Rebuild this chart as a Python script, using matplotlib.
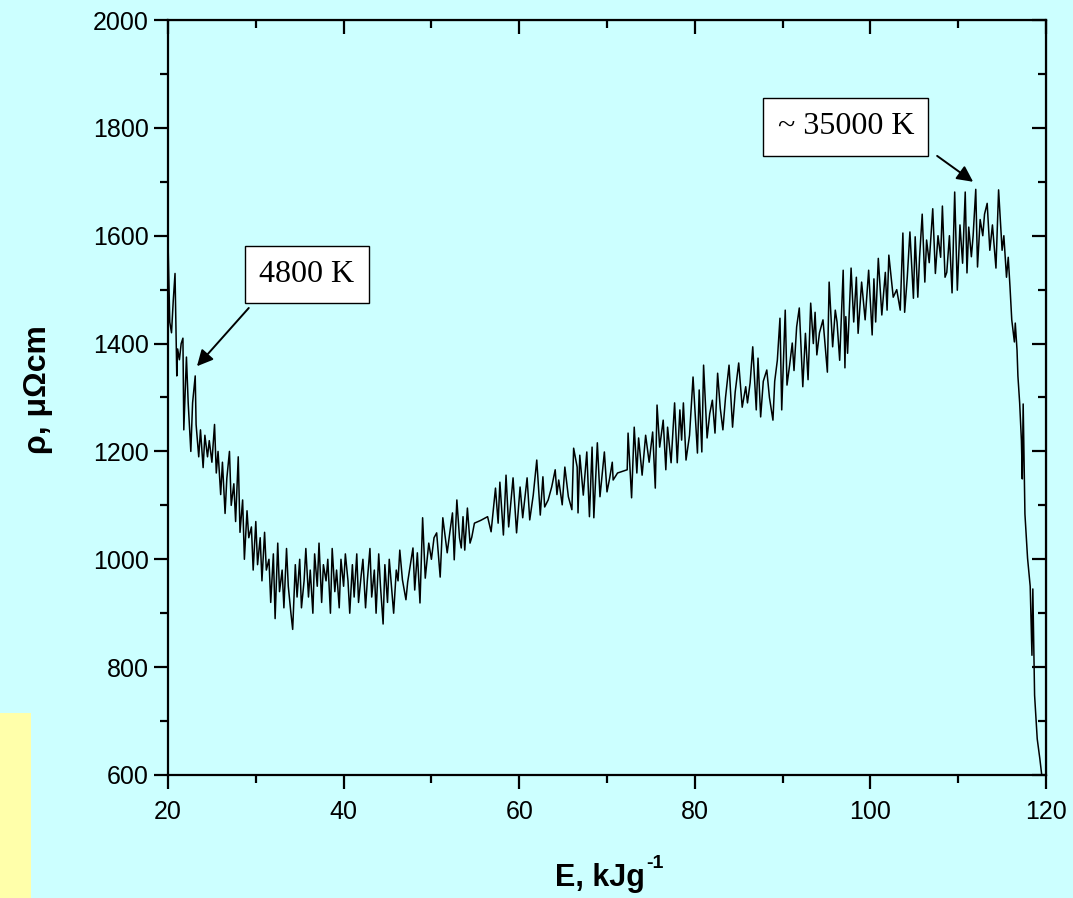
import numpy as np
import matplotlib
matplotlib.use("Agg")
import matplotlib.pyplot as plt
from matplotlib.patches import Rectangle
from matplotlib.ticker import MultipleLocator

# energy (kJ/g)
energy = [20.0, 20.2, 20.4, 20.6, 20.8, 21.0, 21.1, 21.3, 21.5, 21.7, 21.8, 22.1, 22.3, 22.6, 22.8,
          23.1, 23.2, 23.5, 23.7, 24.0, 24.2, 24.5, 24.7, 25.0, 25.3, 25.5, 25.7, 26.0, 26.2, 26.5,
          26.7, 27.0, 27.2, 27.5, 27.7, 28.0, 28.2, 28.5, 28.7, 29.0, 29.2, 29.5, 29.7, 30.0, 30.2,
          30.5, 30.7, 31.0, 31.2, 31.5, 31.7, 32.0, 32.2, 32.5, 32.7, 33.0, 33.2, 33.5, 33.7, 34.0,
          34.2, 34.5, 34.7, 35.0, 35.2, 35.5, 35.7, 36.0, 36.2, 36.5, 36.7, 37.0, 37.2, 37.5, 37.7,
          38.0, 38.2, 38.5, 38.7, 39.0, 39.2, 39.5, 39.7, 40.0, 40.2, 40.5, 40.7, 41.0, 41.2, 41.5,
          41.7, 42.0, 42.2, 42.5, 42.7, 43.0, 43.2, 43.5, 43.7, 44.0, 44.2, 44.5, 44.7, 45.0, 45.2,
          45.5, 45.7, 46.0, 46.2, 46.4, 46.7, 47.1, 47.3, 47.6, 47.9, 48.1, 48.4, 48.7, 49.0, 49.3,
          49.7, 50.0, 50.3, 50.6, 51.0, 51.3, 51.8, 52.1, 52.4, 52.6, 52.9, 53.2, 53.4, 53.6, 53.8,
          54.1, 54.4, 54.6, 54.9, 55.6, 56.4, 56.8, 57.3, 57.6, 57.8, 58.2, 58.5, 58.8, 59.3, 59.7,
          60.1, 60.4, 60.9, 61.2, 61.6, 62.0, 62.4, 62.7, 62.9, 63.3, 63.7, 64.1, 64.3, 64.5, 64.9,
          65.2, 65.6, 66.0, 66.2, 66.6, 66.7, 66.9, 67.3, 67.7, 68.0, 68.3, 68.5, 68.9, 69.2, 69.7,
          70.0, 70.3, 70.6, 70.7, 71.2, 72.3, 72.4, 72.8, 73.1, 73.4, 73.6, 74.0, 74.4, 74.8, 75.2,
          75.5, 75.7, 76.0, 76.4, 76.7, 76.9, 77.3, 77.7, 78.0, 78.3, 78.5, 78.7, 79.0, 79.4, 79.8,
          80.3, 80.5, 80.8, 81.0, 81.4, 81.7, 82.0, 82.3, 82.6, 82.9, 83.2, 83.5, 83.9, 84.3, 84.6,
          85.0, 85.4, 85.8, 86.0, 86.3, 86.6, 87.0, 87.2, 87.5, 87.8, 88.2, 88.5, 88.9, 89.1, 89.4,
          89.7, 89.9, 90.3, 90.5, 90.8, 91.1, 91.3, 91.6, 91.9, 92.3, 92.6, 92.9, 93.2, 93.5, 93.7,
          93.9, 94.2, 94.6, 95.1, 95.3, 95.7, 96.0, 96.2, 96.5, 96.9, 97.1, 97.2, 97.4, 97.8, 98.1,
          98.4, 98.6, 99.0, 99.4, 99.8, 100.2, 100.4, 100.6, 100.9, 101.3, 101.7, 101.9, 102.1, 102.6, 103.0,
          103.4, 103.7, 103.9, 104.2, 104.5, 104.9, 105.1, 105.4, 105.6, 105.9, 106.2, 106.4, 106.7, 107.1, 107.4,
          107.7, 108.0, 108.2, 108.5, 108.7, 109.0, 109.3, 109.6, 109.9, 110.2, 110.5, 110.8, 111.0, 111.2, 111.5,
          111.7, 112.0, 112.2, 112.5, 112.8, 113.0, 113.3, 113.6, 113.9, 114.3, 114.6, 115.0, 115.2, 115.5, 115.7,
          115.9, 116.1, 116.4, 116.5, 116.7, 116.8, 117.0, 117.2, 117.3, 117.4, 117.6, 117.9, 118.2, 118.4, 118.5,
          118.7, 119.0, 119.3, 119.5]

# resistivity (micro-ohm cm)
rho = [1590, 1440, 1420, 1480, 1530, 1340, 1390, 1370, 1400, 1410, 1240, 1375, 1290, 1200, 1290,
       1340, 1250, 1190, 1240, 1170, 1230, 1190, 1220, 1180, 1250, 1160, 1200, 1120, 1180, 1085,
       1150, 1200, 1100, 1140, 1070, 1190, 1050, 1110, 1000, 1090, 1040, 1060, 980, 1070, 990,
       1040, 960, 1050, 980, 1000, 920, 1010, 890, 1030, 940, 980, 910, 1020, 950, 900,
       870, 990, 930, 1000, 910, 960, 1020, 930, 980, 900, 1010, 950, 1030, 920, 990,
       960, 1000, 900, 1020, 940, 980, 910, 1000, 950, 1010, 960, 900, 990, 930, 1010,
       920, 970, 1000, 910, 960, 1020, 930, 980, 900, 1010, 950, 880, 990, 920, 1000,
       940, 900, 980, 960, 1017, 962, 925, 958, 990, 1021, 943, 1012, 919, 1077, 965,
       1030, 1000, 1040, 1049, 967, 1077, 1012, 1050, 1086, 999, 1110, 1040, 1021, 1079, 1017,
       1095, 1030, 1041, 1067, 1072, 1079, 1051, 1132, 1067, 1143, 1045, 1156, 1060, 1151, 1049,
       1134, 1077, 1151, 1073, 1119, 1184, 1082, 1153, 1097, 1110, 1134, 1166, 1120, 1147, 1101,
       1171, 1116, 1092, 1206, 1171, 1086, 1193, 1119, 1199, 1079, 1208, 1077, 1216, 1116, 1199,
       1125, 1150, 1180, 1147, 1160, 1166, 1234, 1114, 1245, 1160, 1225, 1156, 1230, 1180, 1236,
       1132, 1286, 1208, 1258, 1166, 1245, 1179, 1290, 1179, 1277, 1221, 1290, 1184, 1230, 1338,
       1197, 1314, 1199, 1360, 1225, 1270, 1295, 1234, 1345, 1280, 1240, 1300, 1360, 1245, 1310,
       1364, 1282, 1320, 1290, 1327, 1394, 1277, 1373, 1264, 1330, 1351, 1300, 1258, 1330, 1369,
       1447, 1277, 1462, 1323, 1360, 1401, 1350, 1431, 1466, 1320, 1419, 1333, 1475, 1400, 1458,
       1379, 1420, 1444, 1347, 1514, 1394, 1462, 1440, 1369, 1536, 1355, 1450, 1382, 1540, 1440,
       1523, 1419, 1514, 1444, 1536, 1416, 1520, 1440, 1558, 1453, 1532, 1462, 1564, 1486, 1500,
       1462, 1605, 1458, 1523, 1607, 1484, 1598, 1486, 1560, 1640, 1514, 1592, 1550, 1650, 1530,
       1600, 1560, 1655, 1523, 1532, 1600, 1494, 1681, 1499, 1620, 1549, 1681, 1531, 1616, 1561,
       1600, 1686, 1542, 1630, 1600, 1640, 1660, 1573, 1620, 1540, 1685, 1573, 1600, 1523, 1560,
       1505, 1444, 1403, 1438, 1388, 1340, 1290, 1220, 1149, 1288, 1084, 1002, 950, 822, 945,
       748, 667, 630, 602]

x_ticks = [20, 40, 60, 80, 100, 120]
y_ticks = [600, 800, 1000, 1200, 1400, 1600, 1800, 2000]

BG = "#CCFFFF"
SANS = ["Liberation Sans", "DejaVu Sans"]


def make_plot():
    fig = plt.figure(figsize=(10.73, 8.98), dpi=100, facecolor=BG)
    ax = fig.add_axes([168 / 1073, 1 - 775 / 898, (1046 - 168) / 1073, (775 - 20) / 898])
    ax.set_facecolor(BG)

    # yellow strip in the lower left corner
    fig.patches.append(Rectangle((0, 0), 31 / 1073, 185 / 898, transform=fig.transFigure,
                                 facecolor="#FFFFAA", edgecolor="none", zorder=0))

    ax.plot(energy, rho, color="black", lw=1.1)

    ax.set_xlim(20, 120)
    ax.set_ylim(600, 2000)
    ax.set_xticks(x_ticks)
    ax.set_yticks(y_ticks)
    ax.xaxis.set_minor_locator(MultipleLocator(10))
    ax.yaxis.set_minor_locator(MultipleLocator(100))

    for s in ax.spines.values():
        s.set_linewidth(1.6)

    ax.tick_params(which="both", direction="out", width=1.6, top=False, right=False,
                   labelsize=18)
    ax.tick_params(which="major", length=10)
    ax.tick_params(which="minor", length=5.5)
    ax.tick_params(axis="x", pad=8)
    ax.tick_params(axis="y", pad=4)
    for lab in ax.get_xticklabels() + ax.get_yticklabels():
        lab.set_family("Liberation Sans")

    # mirrored ticks pointing inward on top and right
    top = ax.secondary_xaxis("top")
    top.set_xticks(x_ticks)
    top.xaxis.set_minor_locator(MultipleLocator(10))
    top.tick_params(which="both", direction="in", width=1.6, labeltop=False)
    top.tick_params(which="major", length=10)
    top.tick_params(which="minor", length=5.5)
    right = ax.secondary_yaxis("right")
    right.set_yticks(y_ticks)
    right.yaxis.set_minor_locator(MultipleLocator(100))
    right.tick_params(which="both", direction="in", width=1.6, labelright=False)
    right.tick_params(which="major", length=10)
    right.tick_params(which="minor", length=5.5)

    # x label with a small raised "-1"
    fig.text(645 / 1073, 1 - 886 / 898, "E, kJg", ha="right", va="baseline",
             fontsize=22, fontweight="bold", family=SANS)
    fig.text(646 / 1073, 1 - 868 / 898, "-1", ha="left", va="baseline",
             fontsize=14, fontweight="bold", family=SANS)
    fig.text(38 / 1073, 1 - 390 / 898, "ρ, μΩcm", ha="center", va="center", rotation=90,
             fontsize=23, fontweight="bold", family=SANS)

    box = dict(boxstyle="square,pad=0.45", facecolor="white", edgecolor="black", lw=1.0)
    ax.text(35.8, 1528, "4800 K", ha="center", va="center", fontsize=23,
            family="Liberation Serif", bbox=box)
    ax.text(97.2, 1802, "~ 35000 K", ha="center", va="center", fontsize=23,
            family="Liberation Serif", bbox=box)

    arrow = dict(arrowstyle="-|>", color="black", lw=1.4, mutation_scale=24, shrinkA=0, shrinkB=0)
    ax.annotate("", xy=(23.3, 1358), xytext=(29.2, 1466), arrowprops=arrow)
    ax.annotate("", xy=(111.7, 1700), xytext=(107.6, 1748), arrowprops=arrow)

    fig.savefig("out.png", dpi=100, facecolor=BG)


if __name__ == "__main__":
    make_plot()
